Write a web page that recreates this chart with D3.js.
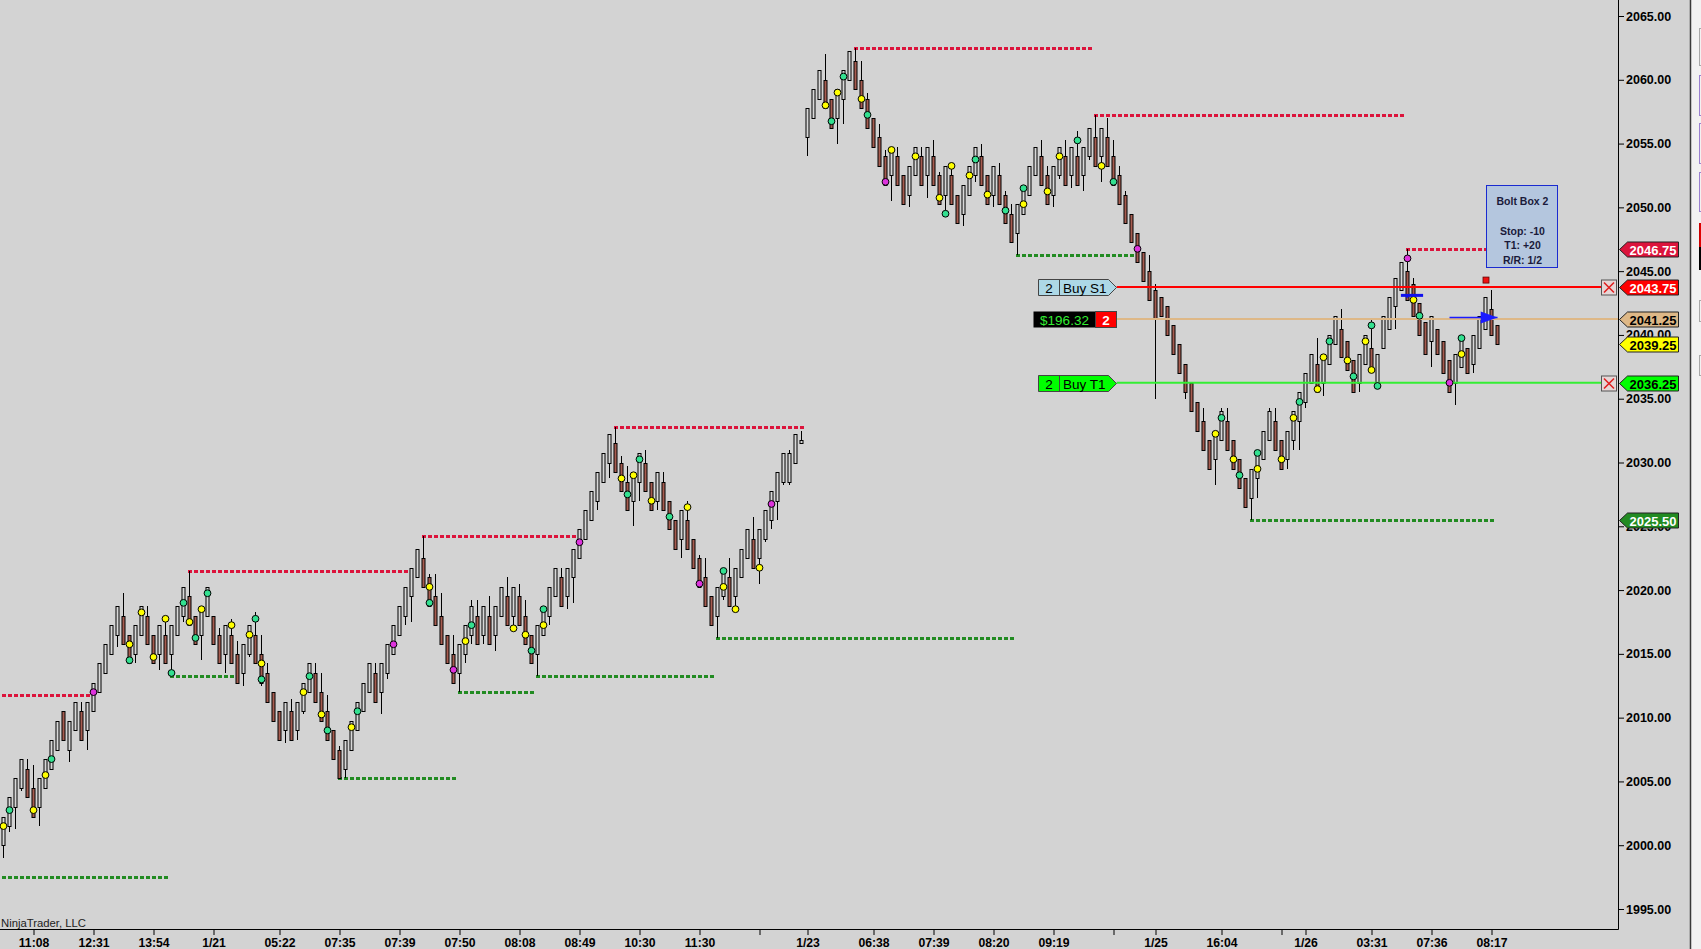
<!DOCTYPE html>
<html>
<head>
<meta charset="utf-8">
<script src="https://cdn.jsdelivr.net/npm/d3@7"></script>
<style>
body { margin: 0; background: #d3d3d3; overflow: hidden; }
text { font-family: "Liberation Sans", Arial, sans-serif; }
</style>
</head>
<body>
<div id="canvas"></div>
<script>
"use strict"

// ---------------- DATA ----------------
// one row per bar: [open, high, low, close]
let bars = [
    [2000.0,2002.25,1999.0,2002.25],[2001.5,2003.75,2001.0,2003.75],[2003.0,2005.25,2001.25,2005.25],[2004.5,2006.75,2004.25,2006.75],[2006.0,2006.75,2003.75,2003.75],
    [2004.5,2006.25,2002.25,2002.25],[2003.0,2005.25,2001.5,2005.25],[2004.5,2006.75,2004.5,2006.75],[2006.0,2008.25,2006.0,2008.25],[2007.5,2009.75,2007.5,2009.75],
    [2010.5,2010.5,2008.25,2008.25],[2007.5,2009.75,2006.5,2009.75],[2009.0,2011.25,2009.0,2011.25],[2010.5,2011.25,2008.25,2008.25],[2009.0,2011.25,2007.5,2011.25],
    [2010.5,2012.75,2010.5,2012.75],[2012.0,2014.25,2012.0,2014.25],[2013.5,2015.75,2013.5,2015.75],[2015.0,2017.25,2015.0,2017.25],[2016.5,2018.75,2015.5,2018.75],
    [2018.0,2019.75,2015.75,2015.75],[2016.5,2016.5,2014.25,2014.25],[2015.0,2017.25,2014.25,2017.25],[2016.5,2018.75,2016.5,2018.75],[2018.0,2018.75,2015.75,2015.75],
    [2016.5,2016.5,2014.25,2014.25],[2015.0,2017.25,2013.75,2017.25],[2016.5,2018.0,2014.25,2014.25],[2015.0,2017.25,2013.5,2017.25],[2016.5,2018.75,2016.5,2018.75],
    [2018.0,2020.25,2017.5,2020.25],[2019.5,2021.5,2017.25,2017.25],[2018.0,2018.0,2015.75,2015.75],[2016.5,2018.75,2014.5,2018.75],[2018.0,2020.25,2018.0,2020.25],
    [2018.0,2018.0,2015.75,2015.75],[2016.5,2017.0,2014.25,2014.25],[2015.0,2017.25,2013.5,2017.25],[2016.5,2017.75,2014.25,2014.25],[2015.0,2016.0,2012.75,2012.75],
    [2013.5,2015.75,2012.5,2015.75],[2015.0,2017.25,2014.75,2017.25],[2016.5,2018.25,2014.25,2014.25],[2015.0,2016.5,2012.5,2012.75],[2013.5,2014.25,2011.25,2011.25],
    [2012.0,2012.0,2009.75,2009.75],[2010.5,2010.5,2008.25,2008.25],[2009.0,2011.25,2008.0,2011.25],[2010.5,2011.5,2008.25,2008.25],[2009.0,2011.25,2008.25,2011.25],
    [2010.5,2012.75,2010.25,2012.75],[2012.0,2014.25,2012.0,2014.25],[2013.5,2014.25,2011.25,2011.25],[2012.0,2013.5,2009.75,2009.75],[2010.5,2011.75,2008.25,2008.25],
    [2009.0,2009.0,2006.75,2006.75],[2007.5,2007.75,2005.25,2005.25],[2006.0,2008.25,2005.25,2008.25],[2007.5,2009.75,2007.5,2009.75],[2009.0,2011.25,2009.0,2011.25],
    [2010.5,2012.75,2010.5,2012.75],[2012.0,2014.25,2012.0,2014.25],[2013.5,2014.25,2011.25,2011.25],[2012.0,2014.25,2010.25,2014.25],[2013.5,2015.75,2013.0,2015.75],
    [2015.0,2017.25,2015.0,2017.25],[2016.5,2018.75,2016.5,2018.75],[2018.0,2020.25,2017.25,2020.25],[2019.5,2021.75,2017.5,2021.75],[2021.0,2023.25,2021.0,2023.25],
    [2022.5,2024.25,2020.25,2020.25],[2021.0,2021.25,2018.75,2018.75],[2019.5,2021.25,2017.25,2017.25],[2018.0,2019.75,2015.75,2015.75],[2016.5,2016.5,2014.25,2014.25],
    [2015.0,2016.5,2012.75,2012.75],[2013.5,2015.75,2012.0,2015.75],[2015.0,2017.25,2014.25,2017.25],[2016.5,2019.25,2015.75,2018.75],[2018.0,2019.25,2015.75,2015.75],
    [2016.5,2018.75,2015.75,2018.75],[2018.0,2019.5,2015.75,2015.75],[2016.5,2018.75,2015.25,2018.75],[2018.0,2020.25,2018.0,2020.25],[2019.5,2021.0,2017.25,2017.25],
    [2018.0,2020.25,2017.0,2020.25],[2019.5,2020.5,2017.25,2017.25],[2018.0,2019.25,2015.75,2015.75],[2016.5,2016.5,2014.25,2014.25],[2015.0,2017.25,2013.25,2017.25],
    [2016.5,2018.75,2016.5,2018.75],[2018.0,2020.25,2017.25,2020.25],[2019.5,2021.75,2019.5,2021.75],[2021.0,2021.75,2018.75,2018.75],[2019.5,2021.75,2018.5,2021.75],
    [2021.0,2023.25,2019.0,2023.25],[2022.5,2024.75,2022.5,2024.75],[2024.0,2026.25,2024.0,2026.25],[2025.5,2027.75,2025.5,2027.75],[2027.0,2029.25,2026.25,2029.25],
    [2028.5,2030.75,2028.5,2030.75],[2030.0,2032.25,2028.75,2032.25],[2031.5,2032.75,2029.25,2029.25],[2030.0,2030.5,2027.75,2027.75],[2028.5,2029.75,2026.25,2026.25],
    [2027.0,2029.25,2025.0,2029.25],[2028.5,2030.75,2027.0,2030.75],[2030.0,2031.0,2027.75,2027.75],[2028.5,2028.5,2026.25,2026.25],[2027.0,2029.25,2026.25,2029.25],
    [2028.5,2029.25,2026.25,2026.25],[2027.0,2027.0,2024.75,2024.75],[2025.5,2025.5,2023.25,2023.25],[2024.0,2026.25,2022.5,2026.25],[2025.5,2027.0,2023.25,2023.25],
    [2024.0,2024.0,2021.75,2021.75],[2022.5,2022.75,2020.25,2020.25],[2021.0,2022.5,2018.75,2018.75],[2019.5,2019.5,2017.25,2017.25],[2018.0,2020.25,2016.25,2020.25],
    [2019.5,2021.75,2019.25,2021.75],[2021.0,2022.5,2018.75,2018.75],[2019.5,2021.75,2018.5,2021.75],[2021.0,2023.25,2021.0,2023.25],[2022.5,2024.75,2022.5,2024.75],
    [2024.0,2025.75,2021.75,2021.75],[2022.5,2024.75,2020.5,2024.75],[2024.0,2026.25,2023.75,2026.25],[2025.5,2027.75,2024.75,2027.75],[2027.0,2029.25,2025.5,2029.25],
    [2028.5,2030.75,2028.25,2030.75],[2028.5,2031.0,2028.25,2030.75],[2030.0,2032.25,2030.0,2032.25],[2031.5,2032.5,2031.5,2031.75],[2055.5,2057.75,2054.0,2057.75],
    [2057.0,2059.25,2057.0,2059.25],[2058.5,2060.75,2058.5,2060.75],[2060.0,2062.0,2057.75,2057.75],[2058.5,2058.5,2056.25,2056.25],[2057.0,2059.25,2055.0,2059.25],
    [2058.5,2060.75,2056.5,2060.75],[2060.0,2062.25,2060.0,2062.25],[2061.5,2062.5,2059.25,2059.25],[2060.0,2061.5,2057.75,2057.75],[2058.5,2059.0,2056.25,2056.25],
    [2057.0,2057.0,2054.75,2054.75],[2055.5,2056.5,2053.25,2053.25],[2054.0,2054.5,2051.75,2051.75],[2052.5,2054.75,2050.5,2054.75],[2054.0,2054.75,2051.75,2051.75],
    [2052.5,2052.5,2050.25,2050.25],[2051.0,2053.25,2050.0,2053.25],[2052.5,2054.75,2052.5,2054.75],[2054.0,2054.75,2051.75,2051.75],[2052.5,2054.75,2050.75,2054.75],
    [2054.0,2055.25,2051.75,2051.75],[2052.5,2052.75,2050.25,2050.25],[2051.0,2053.25,2049.5,2053.25],[2052.5,2053.25,2050.25,2050.25],[2051.0,2051.0,2048.75,2048.75],
    [2049.5,2051.75,2048.5,2051.75],[2051.0,2053.25,2051.0,2053.25],[2052.5,2054.75,2052.0,2054.75],[2054.0,2055.0,2051.75,2051.75],[2052.5,2052.5,2050.25,2050.25],
    [2051.0,2053.25,2050.0,2053.25],[2052.5,2053.5,2050.25,2050.25],[2051.0,2051.25,2048.75,2048.75],[2049.5,2050.25,2047.25,2047.25],[2048.0,2050.25,2046.25,2050.25],
    [2049.5,2051.75,2049.5,2051.75],[2051.0,2053.25,2051.0,2053.25],[2052.5,2054.75,2052.5,2054.75],[2054.0,2055.25,2051.75,2051.75],[2052.5,2053.25,2050.25,2050.25],
    [2051.0,2053.25,2050.0,2053.25],[2052.5,2054.75,2052.25,2054.75],[2054.0,2055.25,2051.75,2051.75],[2052.5,2054.75,2051.5,2054.75],[2054.0,2056.0,2051.75,2051.75],
    [2052.5,2054.75,2051.25,2054.75],[2054.0,2056.25,2053.75,2056.25],[2055.5,2057.25,2053.25,2053.25],[2054.0,2056.25,2052.0,2056.25],[2055.5,2057.0,2053.25,2053.25],
    [2054.0,2055.25,2051.75,2051.75],[2052.5,2053.25,2050.25,2050.25],[2051.0,2051.25,2048.75,2048.75],[2049.5,2049.5,2047.25,2047.25],[2048.0,2048.0,2045.75,2045.75],
    [2046.5,2046.5,2044.25,2044.25],[2045.0,2046.25,2042.75,2042.75],[2043.5,2044.0,2035.0,2041.25],[2043.0,2043.0,2041.5,2041.5],[2042.25,2042.25,2040.0,2040.0],
    [2040.75,2040.75,2038.5,2038.5],[2039.25,2039.25,2037.0,2037.0],[2037.75,2037.75,2035.0,2035.5],[2036.25,2036.25,2034.0,2034.0],[2034.75,2034.75,2032.5,2032.5],
    [2033.25,2034.25,2031.0,2031.0],[2031.75,2031.75,2029.5,2029.5],[2030.25,2032.5,2028.25,2032.5],[2031.75,2034.25,2031.75,2034.0],[2033.25,2034.25,2031.0,2031.0],
    [2031.75,2031.75,2029.5,2029.5],[2030.25,2030.25,2028.0,2028.0],[2028.75,2028.75,2026.5,2026.5],[2027.25,2029.5,2025.5,2029.5],[2028.75,2031.0,2027.25,2031.0],
    [2030.25,2032.5,2030.25,2032.5],[2031.75,2034.25,2031.75,2034.0],[2033.25,2034.25,2031.0,2031.0],[2031.75,2031.75,2029.5,2029.5],[2030.25,2032.5,2029.5,2032.5],
    [2031.75,2034.0,2031.0,2034.0],[2033.25,2035.5,2031.0,2035.5],[2034.75,2037.0,2034.25,2037.0],[2036.25,2038.5,2036.25,2038.5],[2037.75,2039.75,2035.5,2035.5],
    [2036.25,2038.5,2035.25,2038.5],[2037.75,2040.0,2037.75,2040.0],[2039.25,2041.5,2039.25,2041.5],[2040.5,2042.0,2038.25,2038.25],[2039.5,2039.5,2037.25,2037.25],
    [2038.0,2038.0,2035.5,2035.5],[2036.25,2038.5,2035.5,2038.5],[2037.75,2040.0,2037.75,2040.0],[2039.0,2041.25,2037.25,2037.25],[2036.25,2038.5,2036.0,2038.5],
    [2039.0,2041.5,2039.0,2041.5],[2040.5,2043.0,2040.5,2043.0],[2042.25,2044.5,2040.5,2044.5],[2043.5,2045.75,2043.5,2045.75],[2045.0,2046.75,2042.75,2042.75],
    [2044.0,2044.5,2041.5,2041.5],[2042.5,2042.5,2040.0,2040.0],[2041.0,2041.0,2038.5,2038.5],[2039.5,2041.5,2037.5,2041.5],[2040.5,2040.5,2038.5,2038.5],
    [2039.5,2039.5,2037.0,2037.0],[2038.0,2038.0,2035.5,2035.5],[2036.25,2038.5,2034.5,2038.5],[2037.5,2039.75,2037.5,2039.75],[2039.0,2039.0,2037.0,2037.0],
    [2037.75,2040.0,2037.0,2040.0],[2039.0,2041.5,2039.0,2041.5],[2040.5,2043.0,2040.5,2043.0],[2042.0,2043.5,2040.0,2040.0],[2040.75,2040.75,2039.25,2039.25]
]

// indicator dots: [bar, price, kind]  y = yellow, g = green, m = magenta
let dots = [
    [0,2001.5,"y"],[1,2002.75,"g"],[5,2002.75,"y"],[7,2005.5,"y"],[8,2006.75,"g"],[15,2012.0,"m"],[21,2015.75,"y"],[21,2014.5,"g"],
    [23,2018.25,"y"],[25,2014.75,"y"],[27,2017.75,"y"],[28,2013.5,"g"],[30,2019.0,"g"],[31,2017.5,"y"],[32,2016.25,"g"],[33,2018.5,"y"],
    [34,2019.75,"g"],[38,2017.25,"y"],[41,2016.5,"y"],[42,2017.75,"g"],[43,2014.25,"y"],[43,2013.0,"g"],[50,2012.0,"y"],[51,2013.25,"g"],
    [53,2010.25,"y"],[54,2009.0,"g"],[58,2009.25,"y"],[59,2010.5,"g"],[65,2015.75,"m"],
    [71,2020.25,"y"],[71,2019.0,"g"],[75,2013.75,"m"],[77,2016.0,"y"],[78,2017.25,"g"],[85,2017.0,"y"],[87,2016.5,"y"],[88,2015.25,"g"],
    [90,2018.5,"g"],[90,2017.25,"y"],[96,2023.75,"m"],[103,2028.75,"y"],[104,2027.5,"g"],[105,2029.0,"y"],[106,2030.25,"g"],[108,2027.0,"y"],
    [111,2025.75,"g"],[114,2026.5,"y"],[116,2020.5,"m"],[120,2021.5,"g"],[120,2020.25,"y"],[122,2018.5,"y"],[126,2021.75,"y"],[128,2026.75,"m"],
    [137,2058.0,"y"],[138,2056.75,"g"],[139,2059.0,"y"],[140,2060.25,"g"],[143,2058.5,"y"],[144,2057.25,"g"],[147,2052.0,"m"],[148,2054.5,"y"],
    [152,2054.0,"y"],[156,2050.75,"y"],[157,2049.5,"g"],[158,2053.25,"y"],[161,2052.5,"y"],[162,2053.75,"g"],[164,2051.0,"y"],[167,2049.75,"g"],
    [170,2051.5,"g"],[170,2050.25,"y"],[174,2051.25,"y"],[176,2054.0,"y"],[179,2055.25,"g"],[183,2053.25,"y"],[185,2052.0,"g"],
    [189,2046.75,"m"],[202,2032.25,"y"],[203,2033.5,"g"],[205,2030.25,"y"],[206,2029.0,"g"],[209,2030.75,"g"],[209,2029.5,"y"],[213,2030.25,"y"],
    [215,2033.5,"y"],[216,2034.75,"g"],[219,2035.75,"y"],[220,2038.25,"y"],[221,2039.5,"g"],[224,2038.0,"y"],[225,2036.75,"g"],[227,2039.5,"y"],
    [228,2040.75,"g"],[228,2037.25,"y"],[229,2036.0,"g"],[234,2046.0,"m"],[235,2042.75,"y"],[236,2041.5,"g"],[241,2036.25,"m"],[243,2039.75,"g"],
    [243,2038.5,"y"]
]

// swing levels: [fromBar, toBar, price]
let swingHighs = [[-1,15,2011.75],[31,68,2021.5],[70,96,2024.25],[102,134,2032.75],[142,182,2062.5],[182,234,2057.25],[234,249,2046.75]]
let swingLows = [[-1,28,1997.5],[28,39,2013.25],[56,76,2005.25],[76,89,2012.0],[89,119,2013.25],[119,169,2016.25],[169,189,2046.25],[208,249,2025.5]]

let tickBars = [5,15,25,35,46,56,66,76,86,96,106,116,126,134,145,155,165,175,185,192,203,213,217,228,238,248]
let tickLabels = ["11:08","12:31","13:54","1/21","05:22","07:35","07:39","07:50","08:08","08:49","10:30","11:30","","1/23",
    "06:38","07:39","08:20","09:19","","1/25","16:04","","1/26","03:31","07:36","08:17"]
let priceTicks = [1995,2000,2005,2010,2015,2020,2025,2030,2035,2040,2045,2050,2055,2060,2065]

// working orders and position
let stopPrice = 2043.75
let targetPrice = 2036.25
let entryPrice = 2041.25
let lastPrice = 2039.25
let orderQty = "2"
let pnlText = "$196.32"
let tagPrices = [2046.75, 2043.75, 2041.25, 2039.25, 2036.25, 2025.5]
let tagKinds = ["swingHigh", "stop", "entry", "last", "target", "swingLow"]
let boltLines = ["Bolt Box 2", "", "Stop: -10", "T1: +20", "R/R: 1/2"]

// ---------------- LAYOUT ----------------
let svgWidth = 1701
let svgHeight = 949
let axisX = 1618
let axisY = 929

let upFill = "#d8d8d8"
let downFill = "#a65c50"
let dotColor = { y: "#ffff00", g: "#33e090", m: "#dd33dd" }
let tagStyle = {
    swingHigh: { bg: "#dc143c", fg: "#ffffff" },
    stop: { bg: "#ff0000", fg: "#ffffff" },
    entry: { bg: "#deb887", fg: "#000000" },
    last: { bg: "#ffff00", fg: "#000000" },
    target: { bg: "#00ff00", fg: "#000000" },
    swingLow: { bg: "#228b22", fg: "#ffffff" }
}

let svg = d3.select("#canvas")
    .append("svg")
    .attr("width", svgWidth)
    .attr("height", svgHeight)

svg.append("rect")
    .attr("width", svgWidth)
    .attr("height", svgHeight)
    .attr("fill", "#d3d3d3")

let xScale = d3.scaleLinear().domain([0, 249]).range([3.5, 1497.5])
let yScale = d3.scaleLinear().domain([1995, 2065]).range([909, 16])

function py(p) { return Math.round(yScale(p)) + 0.5 }

svg.append("clipPath").attr("id", "plotClip")
    .append("rect").attr("width", axisX).attr("height", axisY)

let plot = svg.append("g").attr("clip-path", "url(#plotClip)")

// ---------------- SWING LINES ----------------
function drawSwings(list, color) {
    plot.append("g").selectAll("line")
        .data(list)
        .enter()
        .append("line")
        .attr("x1", function(d) { return Math.round(xScale(d[0])) - 2 })
        .attr("x2", function(d) { return Math.round(xScale(d[1])) - 3 })
        .attr("y1", function(d) { return py(d[2]) })
        .attr("y2", function(d) { return py(d[2]) })
        .attr("stroke", color)
        .attr("stroke-width", 3)
        .attr("stroke-dasharray", "4,2")
}
drawSwings(swingHighs, "#dc143c")
drawSwings(swingLows, "#228b22")

// ---------------- BARS ----------------
let barG = plot.append("g").selectAll("g")
    .data(bars)
    .enter()
    .append("g")

barG.append("line")
    .attr("x1", function(d, i) { return xScale(i) })
    .attr("x2", function(d, i) { return xScale(i) })
    .attr("y1", function(d) { return Math.round(yScale(d[1])) })
    .attr("y2", function(d) { return Math.round(yScale(d[2])) })
    .attr("stroke", "#000")
    .attr("stroke-width", 1)

barG.append("rect")
    .attr("x", function(d, i) { return xScale(i) - 1.5 })
    .attr("width", 3)
    .attr("y", function(d) { return py(Math.max(d[0], d[3])) })
    .attr("height", function(d) { return Math.max(1, py(Math.min(d[0], d[3])) - py(Math.max(d[0], d[3]))) })
    .attr("fill", function(d) { return d[3] >= d[0] ? upFill : downFill })
    .attr("stroke", "#000")
    .attr("stroke-width", 1)

// ---------------- ORDER LINES ----------------
let lineStart = 1116.7

plot.append("line")
    .attr("x1", lineStart).attr("x2", axisX)
    .attr("y1", yScale(entryPrice)).attr("y2", yScale(entryPrice))
    .attr("stroke", "#deb887").attr("stroke-width", 2)

plot.append("line")
    .attr("x1", lineStart).attr("x2", 1601)
    .attr("y1", yScale(stopPrice)).attr("y2", yScale(stopPrice))
    .attr("stroke", "#ff0000").attr("stroke-width", 2)

plot.append("line")
    .attr("x1", lineStart).attr("x2", 1601)
    .attr("y1", yScale(targetPrice)).attr("y2", yScale(targetPrice))
    .attr("stroke", "#33ee33").attr("stroke-width", 2)

// ---------------- DOTS ----------------
plot.append("g").selectAll("circle")
    .data(dots)
    .enter()
    .append("circle")
    .attr("cx", function(d) { return xScale(d[0]) })
    .attr("cy", function(d) { return yScale(d[1]) })
    .attr("r", 3.4)
    .attr("fill", function(d) { return dotColor[d[2]] })
    .attr("stroke", "#000")
    .attr("stroke-width", 1)

// order tags on the chart
function orderTag(price, fill, label) {
    let yc = Math.round(yScale(price)) + 0.5
    let g = svg.append("g")
    g.append("path")
        .attr("d", `M1038.5,${yc - 8}H1108.5L1116.5,${yc}L1108.5,${yc + 8}H1038.5Z`)
        .attr("fill", fill).attr("stroke", "#444").attr("stroke-width", 1)
    g.append("line")
        .attr("x1", 1059.5).attr("x2", 1059.5)
        .attr("y1", yc - 8).attr("y2", yc + 8)
        .attr("stroke", "#444")
    g.append("text").attr("x", 1049).attr("y", yc + 5)
        .attr("text-anchor", "middle").attr("font-size", 13.5).text(orderQty)
    g.append("text").attr("x", 1063).attr("y", yc + 5)
        .attr("font-size", 13.5).text(label)
}
orderTag(stopPrice, "#add8e6", "Buy S1")
orderTag(targetPrice, "#00ff00", "Buy T1")

let posY = Math.round(yScale(entryPrice)) + 0.5
svg.append("rect").attr("x", 1033.5).attr("y", posY - 8).attr("width", 62).attr("height", 16)
    .attr("fill", "#000")
svg.append("text").attr("x", 1064.5).attr("y", posY + 5).attr("text-anchor", "middle")
    .attr("font-size", 13.5).attr("fill", "#33ee33").text(pnlText)
svg.append("rect").attr("x", 1095.5).attr("y", posY - 8).attr("width", 21).attr("height", 16)
    .attr("fill", "#ff0000").attr("stroke", "#444")
svg.append("text").attr("x", 1106).attr("y", posY + 5).attr("text-anchor", "middle")
    .attr("font-size", 13.5).attr("font-weight", "bold").attr("fill", "#fff").text(orderQty)

// cancel boxes
;[stopPrice, targetPrice].forEach(function(p) {
    let yc = Math.round(yScale(p)) + 0.5
    svg.append("rect").attr("x", 1601.5).attr("y", yc - 7.5).attr("width", 15).attr("height", 15)
        .attr("fill", "#e6d6d6").attr("stroke", "#555")
    svg.append("path")
        .attr("d", `M1604,${yc - 5}L1614,${yc + 5}M1614,${yc - 5}L1604,${yc + 5}`)
        .attr("stroke", "#e02020").attr("stroke-width", 1.6)
})

// ---------------- EXECUTIONS / BOLT BOX ----------------
let execY = yScale(2043.1)
svg.append("line").attr("x1", xScale(232.9)).attr("x2", xScale(236.6))
    .attr("y1", execY).attr("y2", execY).attr("stroke", "#1010ee").attr("stroke-width", 3)
svg.append("path")
    .attr("d", `M${xScale(233.6)},${execY}l2,3l2,-3Z`).attr("fill", "#1010ee")

let arrowY = Math.round(yScale(2041.4)) + 0.5
svg.append("line").attr("x1", xScale(241)).attr("x2", xScale(249))
    .attr("y1", arrowY).attr("y2", arrowY).attr("stroke", "#1a1aff").attr("stroke-width", 1.5)
svg.append("path")
    .attr("d", `M${xScale(246.2)},${arrowY - 6}L${xScale(249)},${arrowY}L${xScale(246.2)},${arrowY + 6}Z`)
    .attr("fill", "#1a1aff")

svg.append("rect")
    .attr("x", xScale(247) - 2.5).attr("y", yScale(2044.3) - 3)
    .attr("width", 6).attr("height", 6)
    .attr("fill", "#ee1111").attr("stroke", "#600").attr("stroke-width", 0.8)

let boxX = Math.round(xScale(247)) + 0.5
let boxTop = Math.round(yScale(2051.75)) + 0.5
svg.append("rect")
    .attr("x", boxX).attr("y", boxTop).attr("width", 71).attr("height", 82)
    .attr("fill", "#b4c6de").attr("stroke", "#1a2ad0").attr("stroke-width", 1)

svg.append("g").selectAll("text")
    .data(boltLines)
    .enter()
    .append("text")
    .attr("x", boxX + 36)
    .attr("y", function(d, i) { return boxTop + 19 + [0, 15, 30, 44, 59][i] })
    .attr("text-anchor", "middle")
    .attr("font-size", 10.5)
    .attr("font-weight", "bold")
    .attr("fill", "#1a1a3a")
    .text(function(d) { return d })

// ---------------- AXES ----------------
let xAxis = d3.axisBottom(xScale)
    .tickValues(tickBars)
    .tickFormat(function(d, i) { return tickLabels[i] })
    .tickSize(6)
    .tickPadding(3)

let xg = svg.append("g")
    .attr("transform", `translate(0,${axisY})`)
    .call(xAxis)
xg.select(".domain").remove()
xg.selectAll("text").attr("font-size", 12.2).attr("font-weight", "bold").attr("fill", "#000")
xg.selectAll("line").attr("stroke", "#000")

let yAxis = d3.axisRight(yScale)
    .tickValues(priceTicks)
    .tickFormat(d3.format(".2f"))
    .tickSize(6)
    .tickPadding(2)

let yg = svg.append("g")
    .attr("transform", `translate(${axisX},0)`)
    .call(yAxis)
yg.select(".domain").remove()
yg.selectAll("text").attr("font-size", 12.5).attr("font-weight", "bold").attr("fill", "#000")
yg.selectAll("line").attr("stroke", "#000")

svg.append("line").attr("x1", 0).attr("x2", axisX + 0.5)
    .attr("y1", axisY + 0.5).attr("y2", axisY + 0.5).attr("stroke", "#000")
svg.append("line").attr("x1", axisX + 0.5).attr("x2", axisX + 0.5)
    .attr("y1", 0).attr("y2", axisY + 0.5).attr("stroke", "#000")

svg.append("text")
    .attr("x", 1).attr("y", 927)
    .attr("font-size", 11.3)
    .attr("fill", "#222")
    .text("NinjaTrader, LLC")

// price markers on the axis
let tagG = svg.append("g").selectAll("g")
    .data(tagPrices)
    .enter()
    .append("g")

tagG.append("path")
    .attr("d", function(d) {
        let yc = Math.round(yScale(d)) + 0.5
        return `M1619.5,${yc}L1627.5,${yc - 7.5}H1678.5V${yc + 7.5}H1627.5Z`
    })
    .attr("fill", function(d, i) { return tagStyle[tagKinds[i]].bg })
    .attr("stroke", "#222")
    .attr("stroke-width", 1)

tagG.append("text")
    .attr("x", 1653)
    .attr("y", function(d) { return Math.round(yScale(d)) + 5.5 })
    .attr("text-anchor", "middle")
    .attr("font-size", 13)
    .attr("font-weight", "bold")
    .attr("fill", function(d, i) { return tagStyle[tagKinds[i]].fg })
    .text(function(d) { return d3.format(".2f")(d) })

// ---------------- RIGHT STRIP ----------------
svg.append("rect").attr("x", 1690).attr("y", 0).attr("width", 11).attr("height", svgHeight)
    .attr("fill", "#f2f2f2")
svg.append("line").attr("x1", 1690.5).attr("x2", 1690.5).attr("y1", 0).attr("y2", svgHeight)
    .attr("stroke", "#3a3a3a").attr("stroke-width", 1.5)

let stripButtons = [[28, 65, "#a8a8a8", "none"], [75, 115, "#9a80d0", "none"], [123, 163, "#9a80d0", "none"],
    [172, 211, "#9a80d0", "none"], [223, 247, "#cc0000", "#e00000"], [247, 269, "#000", "#000"],
    [300, 321, "#a8a8a8", "none"], [355, 375, "#a8a8a8", "none"]]
svg.append("g").selectAll("rect")
    .data(stripButtons)
    .enter()
    .append("rect")
    .attr("x", 1699.5)
    .attr("y", function(d) { return d[0] + 0.5 })
    .attr("width", 6)
    .attr("height", function(d) { return d[1] - d[0] })
    .attr("fill", function(d) { return d[3] })
    .attr("stroke", function(d) { return d[2] })
</script>
</body>
</html>
